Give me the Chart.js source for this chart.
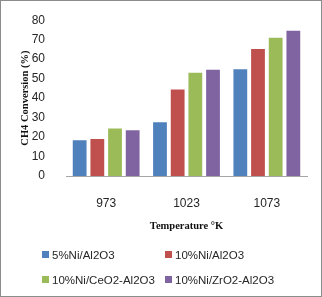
<!DOCTYPE html>
<html>
<head>
<meta charset="utf-8">
<script src="https://cdn.jsdelivr.net/npm/chart.js"></script>
<style>
  body { margin: 0; background: #fff; }
  #wrap { position: relative; width: 320px; height: 295px; border: 1px solid #8c8c8c; }
  canvas { position: absolute; left: -1px; top: -1px; }
  .leg { position: absolute; font: 11.5px "Liberation Sans", Arial, sans-serif; color: #262626; white-space: nowrap; line-height: 14px; }
  .leg span { display: inline-block; width: 7px; height: 7px; margin-right: 3px; vertical-align: 1px; }
</style>
</head>
<body>
<div id="wrap">
  <canvas id="myChart" width="322" height="297"></canvas>
</div>
<script>
const categories = ['973', '1023', '1073'];
const seriesNames = ['5%Ni/Al2O3', '10%Ni/Al2O3', '10%Ni/CeO2-Al2O3', '10%Ni/ZrO2-Al2O3'];
const s1 = [18.4, 27.6, 54.8];
const s2 = [19, 44.4, 65.2];
const s3 = [24.4, 53, 71];
const s4 = [23.5, 54.5, 74.6];
const yTicks = [0, 10, 20, 30, 40, 50, 60, 70, 80];
const colors = ['#4f81bd', '#c0504d', '#9bbb59', '#8064a2'];

const seriesValues = [s1, s2, s3, s4];
const datasets = seriesNames.map((name, i) => ({
    label: name,
    data: seriesValues[i],
    backgroundColor: colors[i],
    borderWidth: 0,
    categoryPercentage: 0.88,
    barPercentage: 0.78
}));

const tickFont = { family: '"Liberation Sans", Arial, sans-serif', size: 12 };
const titleFont = { family: '"Liberation Serif", "Times New Roman", serif', size: 10.5, weight: 'bold' };

new Chart(document.getElementById('myChart'), {
    type: 'bar',
    data: { labels: categories, datasets: datasets },
    options: {
        responsive: false,
        animation: false,
        layout: { padding: { top: 14, right: 15, bottom: 60, left: 19 } },
        plugins: { legend: { display: false }, tooltip: { enabled: false } },
        scales: {
            x: {
                grid: { display: false },
                border: { display: true, color: '#a6a6a6', width: 1 },
                ticks: { color: '#262626', font: tickFont, padding: 12 },
                title: { display: true, text: 'Temperature \u00b0K', color: '#111', font: titleFont, padding: { top: 9 } },
                afterFit: s => { s.height = 61; }
            },
            y: {
                min: 0, max: 80,
                afterBuildTicks: s => { s.ticks = yTicks.map(v => ({ value: v })); },
                grid: { display: false },
                border: { display: false },
                ticks: { color: '#262626', font: tickFont, padding: 13 },
                title: { display: true, text: 'CH4 Conversion (%)', color: '#111', font: titleFont, padding: 0 },
                afterFit: s => { s.width = 47; }
            }
        }
    }
});

// legend in two columns, like the original
const wrap = document.getElementById('wrap');
const legPos = [[41, 247], [164, 247], [41, 272], [164, 272]];
seriesNames.forEach((name, i) => {
    const d = document.createElement('div');
    d.className = 'leg';
    d.style.left = legPos[i][0] + 'px';
    d.style.top = legPos[i][1] + 'px';
    d.innerHTML = '<span style="background:' + colors[i] + '"></span>' + name;
    wrap.appendChild(d);
});
</script>
</body>
</html>
